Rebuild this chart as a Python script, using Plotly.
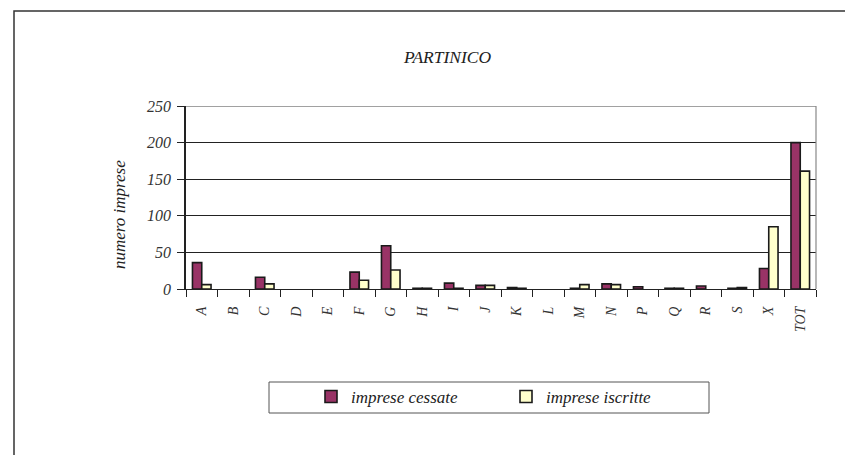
import plotly.graph_objects as go

categories = ["A", "B", "C", "D", "E", "F", "G", "H", "I", "J", "K", "L",
              "M", "N", "P", "Q", "R", "S", "X", "TOT"]
cessate = [36, 0, 16, 0, 0, 23, 59, 1, 8, 5, 2, 0, 1, 7, 3, 1, 4, 1, 28, 200]
iscritte = [6, 0, 7, 0, 0, 12, 26, 1, 1, 5, 1, 0, 6, 6, 0, 1, 0, 2, 85, 161]
y_ticks = [0, 50, 100, 150, 200, 250]

FONT = "Liberation Serif"
OFF = 8  # page body margin
W, H = 853, 455
L, T = 186 - OFF, 106 - OFF
R = W - (816 - OFF)
B = H - (289 - OFF)
pw, ph = W - L - R, H - T - B


def px(x):
    return (x - OFF - L) / pw


def py(y):
    return (H - B - (y - OFF)) / ph


def nz(v):
    return [None if a == 0 else a for a in v]


fig = go.Figure()
fig.add_trace(go.Bar(x=categories, y=nz(cessate), name="imprese cessate",
                     marker=dict(color="#993366", line=dict(color="#1a1a1a", width=1.6))))
fig.add_trace(go.Bar(x=categories, y=nz(iscritte), name="imprese iscritte",
                     marker=dict(color="#FFFFCC", line=dict(color="#1a1a1a", width=1.6))))

fig.update_layout(
    width=W, height=H,
    margin=dict(l=L, r=R, t=T, b=B, autoexpand=False),
    paper_bgcolor="white", plot_bgcolor="white",
    barmode="group", bargap=0.41, bargroupgap=0,
    font=dict(family=FONT, size=13, color="#333", style="italic"),
    showlegend=True,
    legend=dict(orientation="h", x=px(506), y=py(397), xanchor="center", yanchor="middle",
                font=dict(family=FONT, size=17, color="#222", style="italic"),
                bgcolor="rgba(0,0,0,0)", entrywidth=150, itemwidth=30,
                traceorder="normal"),
    xaxis=dict(type="category", showline=True, linecolor="#222", linewidth=1,
               ticks="outside", tickson="boundaries", ticklen=7, tickcolor="#222",
               tickangle=-90, showgrid=False, ticklabelstandoff=11,
               tickfont=dict(family=FONT, size=14, color="#333", style="italic")),
    yaxis=dict(range=[0, 250], tickvals=y_ticks, showline=True, linecolor="#222",
               linewidth=1.5, ticks="outside", ticklen=7, tickcolor="#222",
               showgrid=True, gridcolor="#222", gridwidth=1, zeroline=False,
               ticklabelstandoff=3,
               tickfont=dict(family=FONT, size=16, color="#333", style="italic")),
    shapes=[
        dict(type="line", xref="paper", yref="y", x0=0, x1=1, y0=250, y1=250,
             line=dict(color="#444", width=1)),
        dict(type="line", xref="paper", yref="paper", x0=1, x1=1, y0=0, y1=1,
             line=dict(color="#888", width=1.2)),
        dict(type="rect", xref="paper", yref="paper", x0=px(14), x1=px(900),
             y0=py(480), y1=py(11), line=dict(color="#333", width=1.5)),
        dict(type="rect", xref="paper", yref="paper", x0=px(269), x1=px(709),
             y0=py(413), y1=py(382), line=dict(color="#555", width=1)),
    ],
    annotations=[
        dict(text="PARTINICO", xref="paper", yref="paper", x=px(447), y=py(57),
             showarrow=False, xanchor="center", yanchor="middle",
             font=dict(family=FONT, size=17.5, color="#222", style="italic")),
        dict(text="numero imprese", xref="paper", yref="paper", x=px(119), y=py(215),
             showarrow=False, textangle=-90, xanchor="center", yanchor="middle",
             font=dict(family=FONT, size=17, color="#222", style="italic")),
    ],
)

fig.write_html("out.html")
